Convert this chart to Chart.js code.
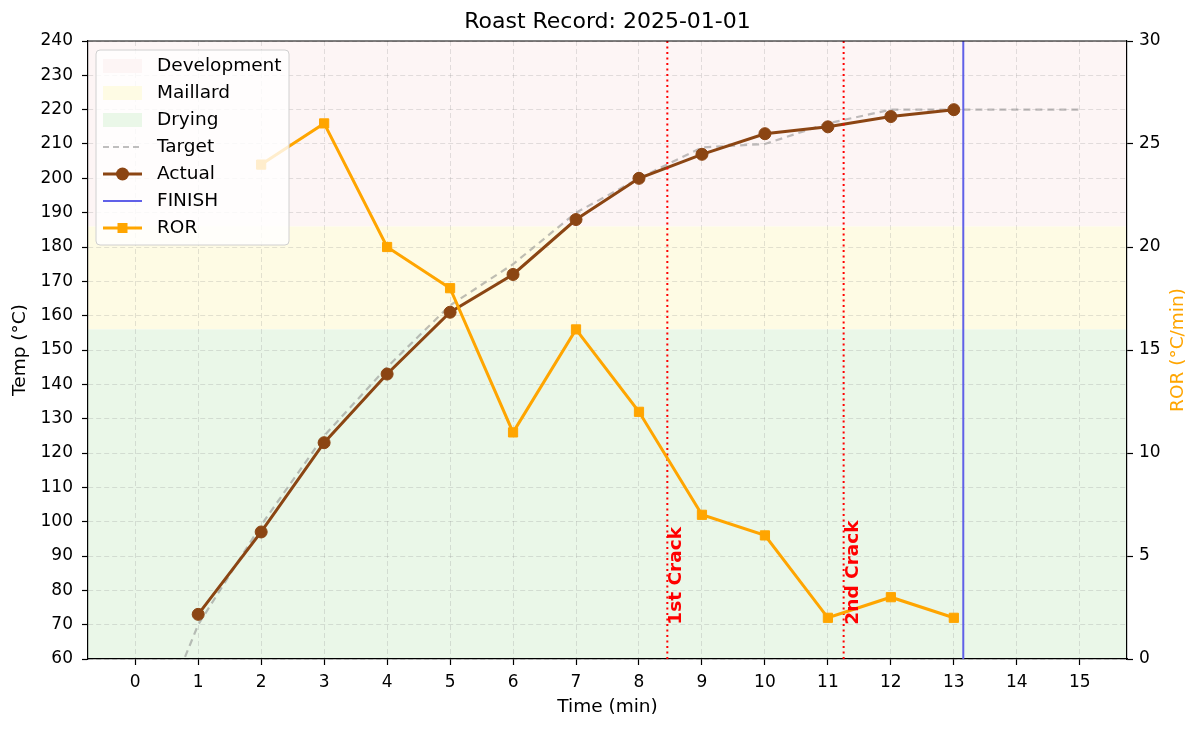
<!DOCTYPE html>
<html>
<head>
<meta charset="utf-8">
<script src="https://cdn.jsdelivr.net/npm/chart.js@4.4.1/dist/chart.umd.min.js"></script>
<style>
  html, body { margin: 0; padding: 0; background: #fff; }
</style>
</head>
<body>
<canvas id="roastChart" width="1200" height="729"></canvas>
<script>
// Values
const targetTimes = [0, 1, 2, 3, 4, 5, 6, 7, 8, 9, 10, 11, 12, 13, 14, 15];
const targetTemps = [25, 70, 99, 125, 145, 163, 175, 190, 200, 209, 210, 216, 220, 220, 220, 220];

const actualTimes = [1, 2, 3, 4, 5, 6, 7, 8, 9, 10, 11, 12, 13];
const actualTemps = [73, 97, 123, 143, 161, 172, 188, 200, 207, 213, 215, 218, 220];

const rorTimes = [2, 3, 4, 5, 6, 7, 8, 9, 10, 11, 12, 13];
const rorValues = [24, 26, 20, 18, 11, 16, 12, 7, 6, 2, 3, 2];

const xTicks = [0, 1, 2, 3, 4, 5, 6, 7, 8, 9, 10, 11, 12, 13, 14, 15];
const tempRange = [60, 240];
const rorRange = [0, 30];

const phaseNames = ['Development', 'Maillard', 'Drying'];
const phaseLow = [186, 156, 60];
const phaseHigh = [240, 186, 156];

const crackNames = ['1st Crack', '2nd Crack'];
const crackTimes = [8.45, 11.25];
const crackLabelTemp = 70;
const finishTime = 13.15;

const chartTitle = 'Roast Record: 2025-01-01';
const rorAxisTitle = 'ROR (°C/min)';

// colours
const phaseColors = ['rgb(253,245,245)', 'rgb(254,251,228)', 'rgb(234,247,232)'];
const brown = '#8B4513';
const orange = '#FFA500';
const targetGray = 'rgba(128,128,128,0.5)';
const finishBlue = 'rgb(96,96,232)';
const crackRed = 'red';
const gridColor = 'rgba(128,128,128,0.22)';

const FONT = 'DejaVu Sans';
Chart.defaults.font.family = FONT;
Chart.defaults.font.size = 17;
Chart.defaults.color = '#000';

const toPoints = (xs, ys) => xs.map((x, i) => ({ x: x, y: ys[i] }));

// phase bands behind the grid
const bandsPlugin = {
    id: 'bands',
    beforeDraw(chart) {
        const { ctx, chartArea, scales } = chart;
        ctx.save();
        phaseNames.forEach((name, i) => {
            const top = scales.y.getPixelForValue(phaseHigh[i]);
            const bottom = scales.y.getPixelForValue(phaseLow[i]);
            ctx.fillStyle = phaseColors[i];
            ctx.fillRect(chartArea.left, top, chartArea.right - chartArea.left, bottom - top);
        });
        ctx.restore();
    }
};

// title, top spine, right axis title, crack labels and the legend box
const overlayPlugin = {
    id: 'overlay',
    afterDraw(chart) {
        const { ctx, chartArea, scales } = chart;
        ctx.save();

        // top spine
        ctx.strokeStyle = '#000';
        ctx.lineWidth = 1.2;
        ctx.beginPath();
        ctx.moveTo(chartArea.left, chartArea.top);
        ctx.lineTo(chartArea.right, chartArea.top);
        ctx.stroke();

        // title
        ctx.fillStyle = '#000';
        ctx.font = '22px "' + FONT + '"';
        ctx.textAlign = 'center';
        ctx.textBaseline = 'middle';
        ctx.fillText(chartTitle, (chartArea.left + chartArea.right) / 2, 22);

        // right axis title, reading upwards
        ctx.save();
        ctx.translate(1178, (chartArea.top + chartArea.bottom) / 2);
        ctx.rotate(-Math.PI / 2);
        ctx.font = '18.5px "' + FONT + '"';
        ctx.fillStyle = orange;
        ctx.textAlign = 'center';
        ctx.textBaseline = 'middle';
        ctx.fillText(rorAxisTitle, 0, 0);
        ctx.restore();

        // crack labels
        ctx.font = 'bold 18.5px "' + FONT + '"';
        ctx.fillStyle = crackRed;
        crackNames.forEach((name, i) => {
            const px = scales.x.getPixelForValue(crackTimes[i]);
            const py = scales.y.getPixelForValue(crackLabelTemp);
            ctx.save();
            ctx.translate(px, py);
            ctx.rotate(-Math.PI / 2);
            ctx.textAlign = 'left';
            ctx.textBaseline = 'top';
            ctx.fillText(name, 0, 0);
            ctx.restore();
        });

        // legend
        const lx = chartArea.left + 8, ly = chartArea.top + 9, lw = 193, lh = 195;
        ctx.fillStyle = 'rgba(255,255,255,0.8)';
        ctx.strokeStyle = '#d0d0d0';
        ctx.lineWidth = 1;
        ctx.beginPath();
        ctx.roundRect(lx, ly, lw, lh, 4);
        ctx.fill();
        ctx.stroke();

        const items = [
            { kind: 'patch', color: phaseColors[0], label: phaseNames[0] },
            { kind: 'patch', color: phaseColors[1], label: phaseNames[1] },
            { kind: 'patch', color: phaseColors[2], label: phaseNames[2] },
            { kind: 'line', color: targetGray, width: 2, dash: [6, 4], label: 'Target' },
            { kind: 'line', color: brown, width: 3, marker: 'circle', label: 'Actual' },
            { kind: 'line', color: finishBlue, width: 2, label: 'FINISH' },
            { kind: 'line', color: orange, width: 3, marker: 'rect', label: 'ROR' }
        ];
        const hx0 = lx + 7, hx1 = lx + 46, tx = lx + 61;
        items.forEach((it, i) => {
            const cy = ly + 16 + i * 27;
            if (it.kind === 'patch') {
                ctx.fillStyle = it.color;
                ctx.fillRect(hx0, cy - 7, hx1 - hx0, 14);
            } else {
                ctx.strokeStyle = it.color;
                ctx.lineWidth = it.width;
                ctx.setLineDash(it.dash || []);
                ctx.beginPath();
                ctx.moveTo(hx0, cy);
                ctx.lineTo(hx1, cy);
                ctx.stroke();
                ctx.setLineDash([]);
                const mx = (hx0 + hx1) / 2;
                ctx.fillStyle = it.color;
                if (it.marker === 'circle') {
                    ctx.beginPath();
                    ctx.arc(mx, cy, 6.5, 0, Math.PI * 2);
                    ctx.fill();
                } else if (it.marker === 'rect') {
                    ctx.fillRect(mx - 5, cy - 5, 10, 10);
                }
            }
            ctx.fillStyle = '#000';
            ctx.font = '18.5px "' + FONT + '"';
            ctx.textAlign = 'left';
            ctx.textBaseline = 'middle';
            ctx.fillText(it.label, tx, cy);
        });

        ctx.restore();
    }
};

const datasets = [
    {
        label: 'Target',
        data: toPoints(targetTimes, targetTemps),
        yAxisID: 'y',
        borderColor: targetGray,
        borderWidth: 2.2,
        borderDash: [7, 5],
        pointRadius: 0,
        order: 5
    },
    {
        label: 'Actual',
        data: toPoints(actualTimes, actualTemps),
        yAxisID: 'y',
        borderColor: brown,
        backgroundColor: brown,
        borderWidth: 3,
        pointRadius: 6,
        pointBorderWidth: 1,
        pointStyle: 'circle',
        order: 3
    },
    {
        label: 'FINISH',
        data: [{ x: finishTime, y: tempRange[0] }, { x: finishTime, y: tempRange[1] }],
        yAxisID: 'y',
        borderColor: finishBlue,
        borderWidth: 2,
        pointRadius: 0,
        order: 4
    },
    {
        label: 'ROR',
        data: toPoints(rorTimes, rorValues),
        yAxisID: 'y2',
        borderColor: orange,
        backgroundColor: orange,
        borderWidth: 3,
        pointRadius: 6.5,
        pointBorderWidth: 1,
        pointStyle: 'rect',
        order: 1
    }
];

crackTimes.forEach((t, i) => {
    datasets.push({
        label: crackNames[i],
        data: [{ x: t, y: tempRange[0] }, { x: t, y: tempRange[1] }],
        yAxisID: 'y',
        borderColor: crackRed,
        borderWidth: 2,
        borderDash: [2, 3.5],
        pointRadius: 0,
        order: 2
    });
});

const gridOpts = {
    color: gridColor,
    tickColor: '#000',
    tickLength: 6,
    tickWidth: 1.2,
    tickBorderDash: []
};
const borderOpts = { color: '#000', width: 1.2, dash: [5, 3] };

new Chart(document.getElementById('roastChart').getContext('2d'), {
    type: 'line',
    data: { datasets: datasets },
    plugins: [bandsPlugin, overlayPlugin],
    options: {
        responsive: false,
        animation: false,
        layout: { padding: { top: 41, left: 0, right: 0, bottom: 0 } },
        plugins: {
            legend: { display: false },
            title: { display: false },
            tooltip: { enabled: false }
        },
        scales: {
            x: {
                type: 'linear',
                min: -0.75,
                max: 15.75,
                afterBuildTicks: (axis) => { axis.ticks = xTicks.map(v => ({ value: v })); },
                afterFit: (axis) => { axis.height = 70; },
                ticks: { padding: 7, autoSkip: false, maxRotation: 0 },
                grid: gridOpts,
                border: borderOpts,
                title: { display: true, text: 'Time (min)', font: { size: 18.5 }, padding: { top: 0, bottom: 11 } }
            },
            y: {
                position: 'left',
                min: tempRange[0],
                max: tempRange[1],
                ticks: { stepSize: 10, padding: 9 },
                afterFit: (axis) => { axis.width = 88; },
                grid: gridOpts,
                border: borderOpts,
                title: { display: true, text: 'Temp (°C)', font: { size: 18.5 }, padding: { top: 9, bottom: 0 } }
            },
            y2: {
                position: 'right',
                min: rorRange[0],
                max: rorRange[1],
                ticks: { stepSize: 5, padding: 6 },
                afterFit: (axis) => { axis.width = 73; },
                grid: {
                    drawOnChartArea: false,
                    tickColor: '#000',
                    tickLength: 6,
                    tickWidth: 1.2
                },
                border: { color: '#000', width: 1.2 },
                title: { display: false }
            }
        }
    }
});
</script>
</body>
</html>
